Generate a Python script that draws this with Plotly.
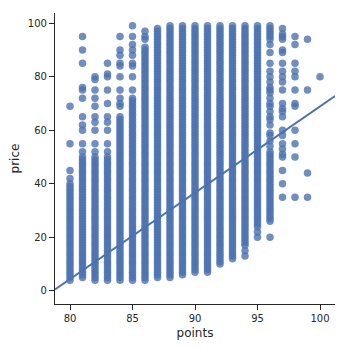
import plotly.graph_objects as go

# Wine review scores (x) and the prices seen in each score column (y)
scores = list(range(80, 101))
# contiguous price runs observed in each column (low, high); None = no solid run
span_low = [4, 5, 4, 4, 4, 4, 4, 5, 5, 6, 7, 7, 10, 12, 17, 24, 26, None, None, None, None]
span_high = [40, 50, 50, 50, 65, 72, 91, 98, 99, 99, 99, 99, 99, 99, 99, 99, 52, None, None, None, None]
# isolated prices observed above/below the solid runs
extra_prices = [
    [42, 45, 55, 69],
    [52, 55, 60, 62, 65, 72, 75, 76, 85, 90, 95],
    [52, 55, 60, 63, 65, 69, 72, 75, 79, 80],
    [52, 55, 60, 63, 65, 70, 75, 80, 81, 85],
    [69, 70, 72, 75, 80, 84, 85, 88, 90, 95],
    [75, 80, 84, 85, 88, 90, 92, 95, 99],
    [94, 95, 97],
    [],
    [],
    [],
    [],
    [],
    [],
    [],
    [13, 15],
    [20, 22],
    [20, 54, 56, 58, 59, 62, 64, 65, 67, 69, 70, 72, 74, 75, 76, 78, 80, 82, 85, 89,
     92, 94, 95, 96, 97, 98, 99],
    [35, 40, 45, 50, 51, 53, 55, 58, 60, 65, 67, 68, 70, 75, 78, 80, 82, 85, 89, 90,
     94, 95, 96, 98],
    [35, 50, 55, 60, 69, 70, 75, 80, 82, 85, 92, 95],
    [35, 44, 75, 94],
    [80],
]
# fitted regression line (ends at the axis limits)
fit_points = [78.8, 101.2]
fit_price = [0.5, 72.8]

xs, ys = [], []
for s, lo, hi, ex in zip(scores, span_low, span_high, extra_prices):
    prices = list(ex)
    if lo is not None:
        prices += list(range(lo, hi + 1))
    for p in prices:
        xs.append(s)
        ys.append(p)

color = "#4C72B0"
fig = go.Figure()
fig.add_trace(go.Scatter(
    x=xs, y=ys, mode="markers",
    marker=dict(size=7.5, color=color, opacity=0.8, line=dict(width=0)),
    hoverinfo="skip", showlegend=False,
))
fig.add_trace(go.Scatter(
    x=fit_points, y=fit_price, mode="lines",
    line=dict(color=color, width=2), showlegend=False,
))

axis_common = dict(
    showgrid=False, zeroline=False, showline=True, linecolor="#262626", linewidth=1.2,
    ticks="outside", ticklen=5, tickwidth=1.2, tickcolor="#262626",
    tickfont=dict(family="DejaVu Sans", size=10, color="#262626"),
    mirror=False,
)
title_font = dict(family="DejaVu Sans", size=12, color="#262626")
fig.update_layout(
    width=348, height=348,
    margin=dict(l=55, r=13, t=13, b=44),
    paper_bgcolor="white", plot_bgcolor="white",
    xaxis=dict(range=[78.8, 101.2], tickvals=[80, 85, 90, 95, 100],
               title=dict(text="points", font=title_font, standoff=5),
               **axis_common),
    yaxis=dict(range=[-4.9, 103.8], tickvals=[0, 20, 40, 60, 80, 100],
               title=dict(text="price", font=title_font, standoff=5),
               **axis_common),
)
fig.write_html("out.html")
